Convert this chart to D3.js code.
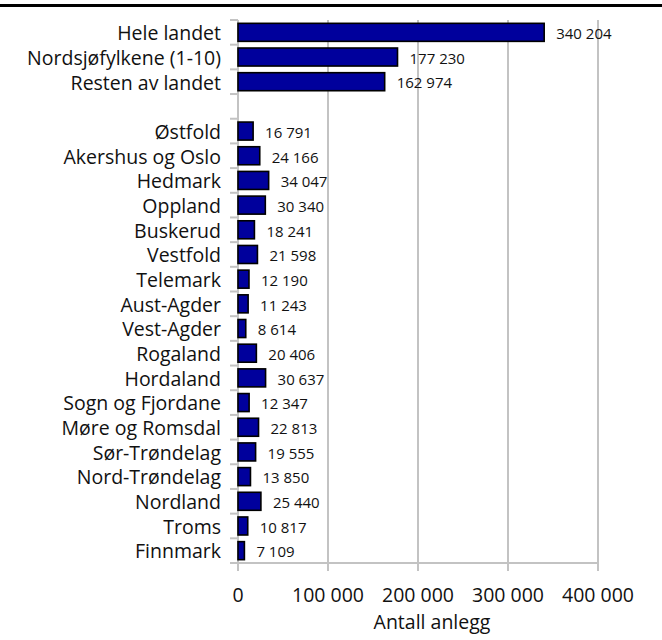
<!DOCTYPE html>
<html>
<head>
<meta charset="utf-8">
<script src="https://cdn.jsdelivr.net/npm/d3@7"></script>
<style>
  body { margin: 0; background: #fff; }
  text { font-family: "Open Sans", sans-serif; fill: #111; }
</style>
</head>
<body>
<div id="vis"></div>
<script>
// categories, blank slot separates totals from counties
var categories = ["Hele landet", "Nordsjøfylkene (1-10)", "Resten av landet", "",
    "Østfold", "Akershus og Oslo", "Hedmark", "Oppland", "Buskerud", "Vestfold",
    "Telemark", "Aust-Agder", "Vest-Agder", "Rogaland", "Hordaland",
    "Sogn og Fjordane", "Møre og Romsdal", "Sør-Trøndelag", "Nord-Trøndelag",
    "Nordland", "Troms", "Finnmark"];
var values = [340204, 177230, 162974, null,
    16791, 24166, 34047, 30340, 18241, 21598,
    12190, 11243, 8614, 20406, 30637,
    12347, 22813, 19555, 13850,
    25440, 10817, 7109];
var xTicks = [0, 100000, 200000, 300000, 400000];

var w = 662,
    h = 640,
    plotLeft = 238,
    plotRight = 598,
    plotTop = 20,
    plotBottom = 563,
    tickLen = 8;

var fmt = function(d) { return d3.format(",")(d).replace(/,/g, " "); };

var x = d3.scaleLinear().domain([0, 400000]).range([plotLeft, plotRight]);
var y = d3.scaleBand().domain(d3.range(categories.length)).range([plotTop, plotBottom]).paddingInner(0.27).paddingOuter(0.135);
var slot = (plotBottom - plotTop) / categories.length;

var svg = d3.select("#vis").append("svg")
    .attr("width", w)
    .attr("height", h);

// top rule
svg.append("rect")
   .attr("x", 0).attr("y", 4)
   .attr("width", w).attr("height", 3)
   .attr("fill", "#000");

// grid lines
svg.selectAll(".grid")
   .data(xTicks.slice(1))
   .enter()
   .append("line")
   .attr("x1", function(d) { return x(d); })
   .attr("x2", function(d) { return x(d); })
   .attr("y1", plotTop)
   .attr("y2", plotBottom + tickLen)
   .attr("stroke", "#c3c3c3")
   .attr("stroke-width", 2);

// y axis line + ticks at category boundaries
svg.append("line")
   .attr("x1", plotLeft).attr("x2", plotLeft)
   .attr("y1", plotTop).attr("y2", plotBottom + tickLen)
   .attr("stroke", "#c3c3c3").attr("stroke-width", 2);

svg.selectAll(".yTick")
   .data(d3.range(categories.length))
   .enter()
   .append("line")
   .attr("x1", plotLeft - tickLen)
   .attr("x2", plotLeft)
   .attr("y1", function(d) { return plotTop + d * slot; })
   .attr("y2", function(d) { return plotTop + d * slot; })
   .attr("stroke", "#c3c3c3").attr("stroke-width", 2);

// x axis line
svg.append("line")
   .attr("x1", plotLeft - tickLen).attr("x2", plotRight + 1)
   .attr("y1", plotBottom).attr("y2", plotBottom)
   .attr("stroke", "#c3c3c3").attr("stroke-width", 2);

var barData = values.map(function(v, i) { return {i: i, v: v}; })
                    .filter(function(d) { return d.v !== null; });

// bars
svg.selectAll(".bar")
   .data(barData)
   .enter()
   .append("rect")
   .attr("x", x(0))
   .attr("y", function(d) { return y(d.i); })
   .attr("width", function(d) { return x(d.v) - x(0); })
   .attr("height", y.bandwidth())
   .attr("fill", "#00009c")
   .attr("stroke", "#000")
   .attr("stroke-width", 1.6);

// value labels
svg.selectAll(".val")
   .data(barData)
   .enter()
   .append("text")
   .attr("x", function(d) { return x(d.v) + 12; })
   .attr("y", function(d) { return y(d.i) + y.bandwidth() / 2 + 1.5; })
   .attr("dy", "0.35em")
   .attr("font-size", 15)
   .text(function(d) { return fmt(d.v); });

// category labels
svg.selectAll(".cat")
   .data(categories)
   .enter()
   .append("text")
   .attr("x", plotLeft - 17)
   .attr("y", function(d, i) { return y(i) + y.bandwidth() / 2 + 1; })
   .attr("dy", "0.35em")
   .attr("text-anchor", "end")
   .attr("font-size", 19.5)
   .text(String);

// x tick labels
svg.selectAll(".xLabel")
   .data(xTicks)
   .enter()
   .append("text")
   .attr("x", function(d) { return x(d); })
   .attr("y", 595)
   .attr("dy", "0.35em")
   .attr("text-anchor", "middle")
   .attr("font-size", 19.5)
   .text(fmt);

svg.append("text")
   .attr("x", 432)
   .attr("y", 622)
   .attr("dy", "0.35em")
   .attr("text-anchor", "middle")
   .attr("font-size", 19.5)
   .text("Antall anlegg");
</script>
</body>
</html>
